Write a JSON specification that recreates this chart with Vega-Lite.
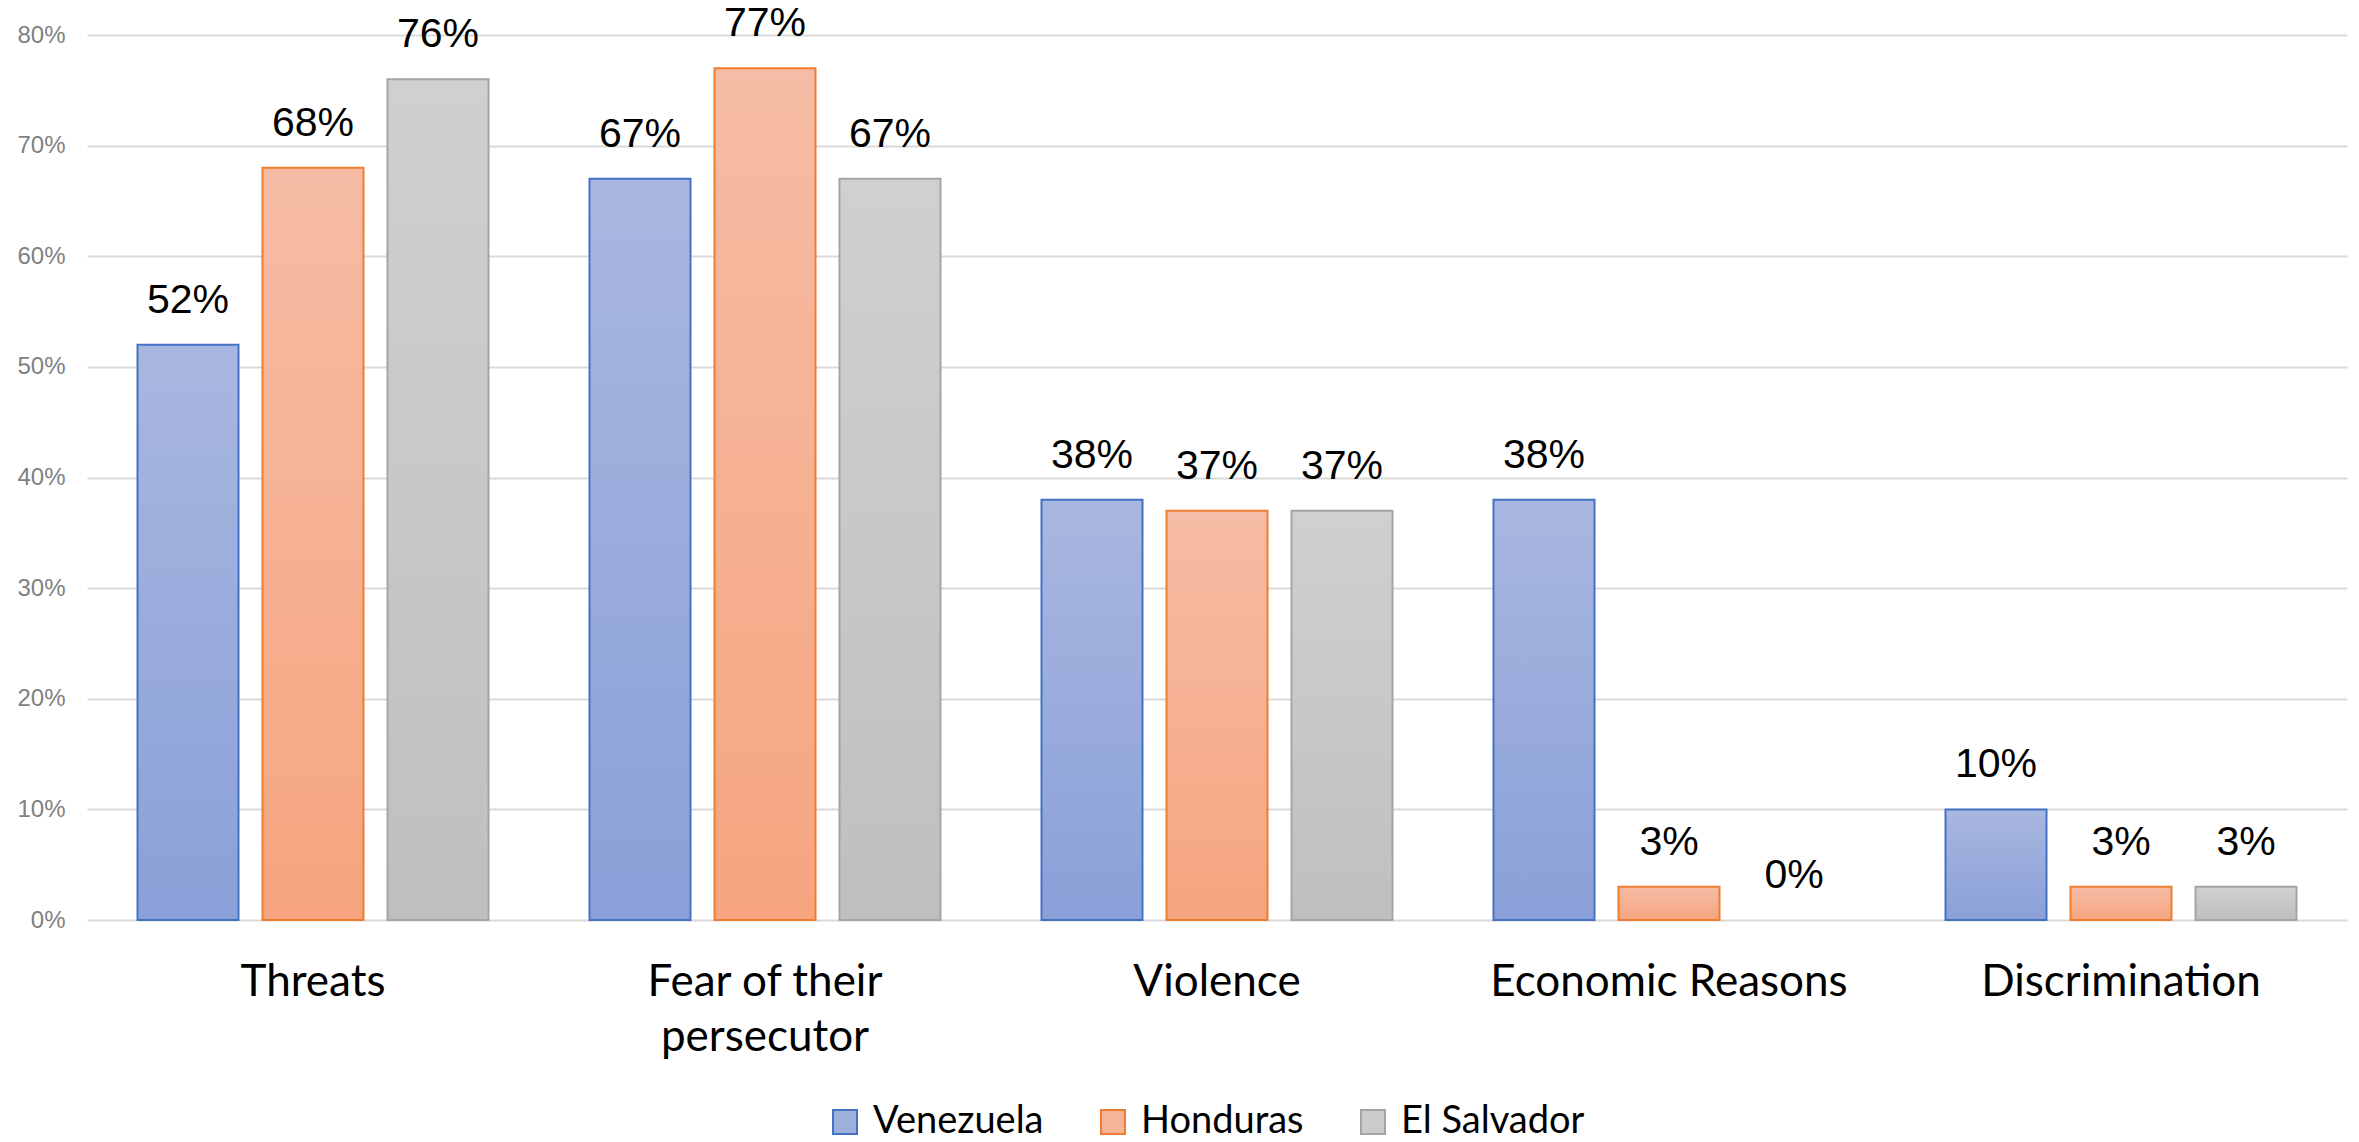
{
  "$schema": "https://vega.github.io/schema/vega-lite/v6.json",
  "width": 2260,
  "height": 885,
  "autosize": {"type": "none"},
  "padding": {"left": 87, "top": 35, "right": 12, "bottom": 222},
  "background": "white",
  "config": {
    "view": {"stroke": null},
    "legend": {
      "title": null,
      "orient": "none",
      "legendX": 739,
      "legendY": 1068,
      "direction": "horizontal",
      "symbolType": "square",
      "symbolSize": 576,
      "symbolStrokeWidth": 2,
      "labelFont": "Lato",
      "labelFontSize": 38,
      "labelColor": "#000000",
      "labelOffset": 9,
      "columnPadding": 50,
      "labelLimit": 0
    }
  },
  "data": {
    "values": [
      {"reason": "Threats", "country": "Venezuela", "share": 0.52},
      {"reason": "Threats", "country": "Honduras", "share": 0.68},
      {"reason": "Threats", "country": "El Salvador", "share": 0.76},
      {"reason": "Fear of their persecutor", "country": "Venezuela", "share": 0.67},
      {"reason": "Fear of their persecutor", "country": "Honduras", "share": 0.77},
      {"reason": "Fear of their persecutor", "country": "El Salvador", "share": 0.67},
      {"reason": "Violence", "country": "Venezuela", "share": 0.38},
      {"reason": "Violence", "country": "Honduras", "share": 0.37},
      {"reason": "Violence", "country": "El Salvador", "share": 0.37},
      {"reason": "Economic Reasons", "country": "Venezuela", "share": 0.38},
      {"reason": "Economic Reasons", "country": "Honduras", "share": 0.03},
      {"reason": "Economic Reasons", "country": "El Salvador", "share": 0.0},
      {"reason": "Discrimination", "country": "Venezuela", "share": 0.10},
      {"reason": "Discrimination", "country": "Honduras", "share": 0.03},
      {"reason": "Discrimination", "country": "El Salvador", "share": 0.03}
    ]
  },
  "encoding": {
    "x": {
      "field": "reason",
      "type": "nominal",
      "sort": ["Threats", "Fear of their persecutor", "Violence", "Economic Reasons", "Discrimination"],
      "scale": {"paddingInner": 0, "paddingOuter": 0},
      "axis": {
        "title": null,
        "labelAngle": 0,
        "domain": false,
        "ticks": false,
        "labelFont": "Lato",
        "labelFontSize": 44,
        "labelColor": "#000000",
        "labelPadding": 40,
        "labelLineHeight": 55,
        "labelLimit": 0,
        "labelExpr": "datum.value == 'Fear of their persecutor' ? ['Fear of their', 'persecutor'] : datum.value"
      }
    },
    "xOffset": {
      "field": "country",
      "type": "nominal",
      "sort": ["Venezuela", "Honduras", "El Salvador"],
      "scale": {"paddingInner": 0.192, "paddingOuter": 0.404}
    },
    "y": {
      "field": "share",
      "type": "quantitative",
      "scale": {"domain": [0, 0.8], "nice": false},
      "axis": {
        "title": null,
        "values": [0, 0.1, 0.2, 0.3, 0.4, 0.5, 0.6, 0.7, 0.8],
        "format": ".0%",
        "domain": false,
        "ticks": false,
        "gridColor": "#d9d9d9",
        "gridWidth": 2,
        "labelFont": "Liberation Sans",
        "labelFontSize": 24,
        "labelColor": "#7f7f7f",
        "labelPadding": 22
      }
    }
  },
  "layer": [
    {
      "mark": {"type": "bar", "strokeWidth": 2},
      "encoding": {
        "fill": {
          "condition": [
            {"test": "datum.country == 'Venezuela'", "value": {"gradient": "linear", "x1": 0, "y1": 0, "x2": 0, "y2": 1, "stops": [{"offset": 0, "color": "#a9b7e0"}, {"offset": 1, "color": "#8aa0d8"}]}},
            {"test": "datum.country == 'Honduras'", "value": {"gradient": "linear", "x1": 0, "y1": 0, "x2": 0, "y2": 1, "stops": [{"offset": 0, "color": "#f6bca5"}, {"offset": 1, "color": "#f6a57f"}]}},
            {"test": "datum.country == 'El Salvador'", "value": {"gradient": "linear", "x1": 0, "y1": 0, "x2": 0, "y2": 1, "stops": [{"offset": 0, "color": "#d0d0d0"}, {"offset": 1, "color": "#bfbfbf"}]}}
          ],
          "field": "country",
          "type": "nominal",
          "scale": {"domain": ["Venezuela", "Honduras", "El Salvador"], "range": ["#9fb0dd", "#f6b497", "#cbcbcb"]}
        },
        "stroke": {
          "condition": {"test": "datum.share == 0", "value": null},
          "field": "country",
          "type": "nominal",
          "scale": {"domain": ["Venezuela", "Honduras", "El Salvador"], "range": ["#4472c4", "#ed7d31", "#a5a5a5"]}
        }
      }
    },
    {
      "mark": {"type": "text", "font": "Liberation Sans", "fontSize": 41, "color": "#000000", "baseline": "alphabetic", "dy": -32},
      "encoding": {
        "text": {"field": "share", "type": "quantitative", "format": ".0%"}
      }
    }
  ]
}
